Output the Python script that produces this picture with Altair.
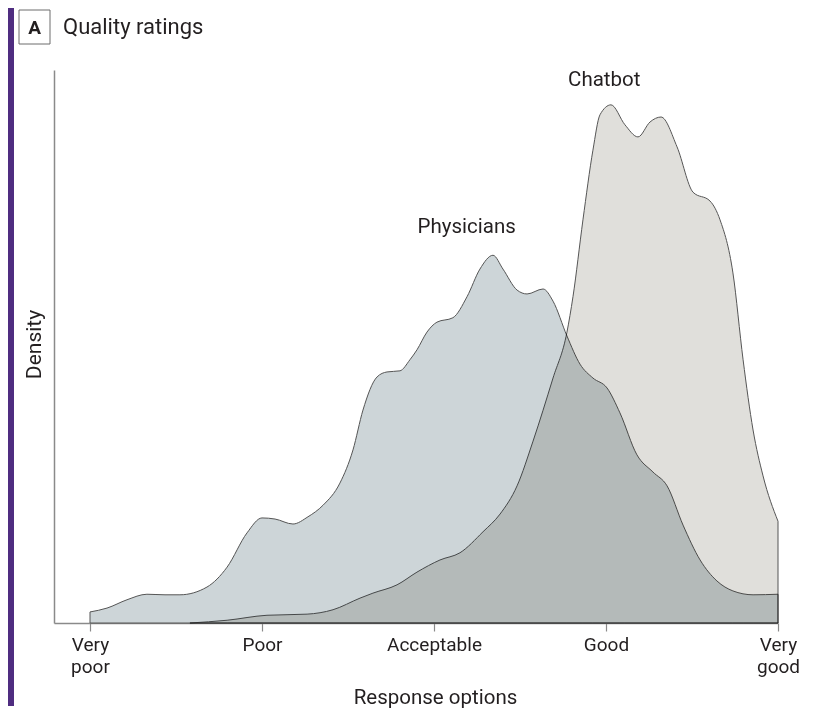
import json
import altair as alt
import pandas as pd

# ---- data ----
tick_values = [1, 2, 3, 4, 5]
tick_labels = ["Very\npoor", "Poor", "Acceptable", "Good", "Very\ngood"]

phys_rating = [1.000, 1.099, 1.215, 1.331, 1.436, 1.523, 1.680, 1.797, 1.913, 2.000,
               2.076, 2.180, 2.267, 2.355, 2.453, 2.529, 2.587, 2.669, 2.727, 2.802,
               2.860, 2.901, 2.959, 3.017, 3.110, 3.192, 3.267, 3.343, 3.401, 3.483,
               3.541, 3.634, 3.692, 3.773, 3.849, 3.924, 4.006, 4.081, 4.180, 4.273,
               4.355, 4.448, 4.547, 4.645, 4.738, 4.855, 5.000]
phys_density = [0.020, 0.027, 0.042, 0.052, 0.051, 0.051, 0.065, 0.101, 0.163, 0.190,
                0.188, 0.179, 0.192, 0.213, 0.253, 0.313, 0.385, 0.445, 0.454, 0.456,
                0.476, 0.494, 0.526, 0.544, 0.552, 0.590, 0.640, 0.665, 0.640, 0.602,
                0.595, 0.604, 0.582, 0.519, 0.468, 0.443, 0.425, 0.380, 0.304, 0.273,
                0.248, 0.177, 0.114, 0.076, 0.058, 0.051, 0.052]

chat_rating = [1.581, 1.797, 2.029, 2.262, 2.413, 2.570, 2.645, 2.785, 2.901, 3.035,
               3.151, 3.285, 3.384, 3.483, 3.576, 3.692, 3.773, 3.808, 3.866, 3.924,
               3.965, 4.029, 4.110, 4.186, 4.256, 4.320, 4.413, 4.506, 4.605, 4.663,
               4.738, 4.797, 4.855, 4.913, 5.000]
chat_density = [0.000, 0.005, 0.014, 0.016, 0.024, 0.045, 0.054, 0.069, 0.092, 0.114,
                0.127, 0.165, 0.197, 0.248, 0.329, 0.443, 0.526, 0.590, 0.729, 0.855,
                0.919, 0.937, 0.901, 0.879, 0.906, 0.915, 0.861, 0.779, 0.763, 0.729,
                0.633, 0.476, 0.349, 0.266, 0.184]

series_labels = ["Physicians", "Chatbot"]
label_rating = [3.19, 3.99]
label_density = [0.716, 0.982]

panel_letter = "A"
panel_title = "Quality ratings"
x_title = "Response options"
y_title = "Density"

# ---- styling ----
FONT = "Roboto"
TEXT = "#231F20"
AXIS = "#8a8a8a"
PURPLE = "#4F2D80"
PHYS_FILL = "#CDD5D8"
CHAT_FILL = "#E0DFDB"
OUTLINE = "#555555"

phys_df = pd.DataFrame({"rating": phys_rating, "density": phys_density})
chat_df = pd.DataFrame({"rating": chat_rating, "density": chat_density})
lab_df = pd.DataFrame({"rating": label_rating, "density": label_density, "label": series_labels})
dummy = alt.Data(values=[{"k": 1}])

label_expr = "split(" + json.dumps(tick_labels) + "[datum.value - 1], '\\n')"

xscale = alt.Scale(domain=[0.7907, 5], nice=False, zero=False)
yscale = alt.Scale(domain=[0, 1], nice=False)

xaxis = alt.Axis(values=tick_values, labelExpr=label_expr, grid=False,
                 tickSize=8, tickColor=AXIS, tickWidth=1.2,
                 domainColor=AXIS, domainWidth=1.5,
                 labelFont=FONT, labelFontSize=19, labelColor=TEXT,
                 labelLineHeight=22, labelPadding=4, labelFlush=False,
                 labelOverlap=False,
                 titleFont=FONT, titleFontSize=20.5, titleFontWeight="normal",
                 titleColor=TEXT, titleX=381, titleY=80,
                 titleBaseline="alphabetic", titleAlign="center")
yaxis = alt.Axis(labels=False, ticks=False, grid=False,
                 domainColor=AXIS, domainWidth=1.5,
                 titleFont=FONT, titleFontSize=21, titleFontWeight="normal",
                 titleColor=TEXT, titleX=-14, titleY=274, titleAngle=270,
                 titleAlign="center", titleBaseline="alphabetic")

X = alt.X("rating:Q", scale=xscale, axis=xaxis, title=x_title)
Y = alt.Y("density:Q", scale=yscale, axis=yaxis, title=y_title)

phys = alt.Chart(phys_df).mark_area(
    interpolate="monotone", fill=PHYS_FILL, stroke=OUTLINE, strokeWidth=1
).encode(x=X, y=Y)

chat = alt.Chart(chat_df).mark_area(
    interpolate="monotone", fill=CHAT_FILL, stroke=OUTLINE, strokeWidth=1,
    blend="multiply"
).encode(x=X, y=Y)

labels = alt.Chart(lab_df).mark_text(
    font=FONT, fontSize=20.5, color=TEXT, align="center", baseline="middle"
).encode(x=X, y=Y, text="label:N")

purple = alt.Chart(dummy).mark_rect(color=PURPLE).encode(
    x=alt.value(-46), x2=alt.value(-40), y=alt.value(-62), y2=alt.value(636))
box = alt.Chart(dummy).mark_rect(fill="white", stroke="#6d6d6d", strokeWidth=1).encode(
    x=alt.value(-35), x2=alt.value(-4), y=alt.value(-60), y2=alt.value(-26))
letter = alt.Chart(dummy).mark_text(
    text=panel_letter, font=FONT, fontSize=19, fontWeight="bold", color=TEXT,
    align="center", baseline="middle").encode(x=alt.value(-19.5), y=alt.value(-42))
title = alt.Chart(dummy).mark_text(
    text=panel_title, font=FONT, fontSize=22, color=TEXT,
    align="left", baseline="alphabetic").encode(x=alt.value(9), y=alt.value(-36))

chart = alt.layer(purple, box, letter, title, phys, chat, labels).properties(
    width=724, height=553, padding=0, background="white"
).configure_view(stroke=None)

chart.save("out.html", embed_options={"renderer": "svg", "actions": False})
